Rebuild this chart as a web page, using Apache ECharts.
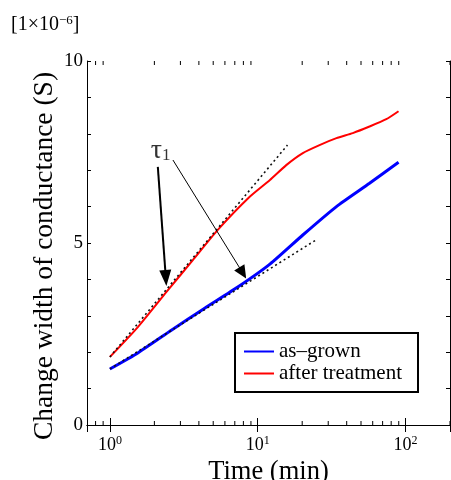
<!DOCTYPE html>
<html><head><meta charset="utf-8">
<script src="https://cdn.jsdelivr.net/npm/echarts@6/dist/echarts.min.js"></script>
<style>html,body{margin:0;padding:0;background:#fff}#c{width:451px;height:480px}</style>
</head><body><div id="c"></div>
<script>
// ---- data ----
const asGrownTime  = [1, 1.546, 2.62, 4.38, 7.33, 12.1, 20.2, 34.1, 57.1, 89.7];
const asGrownValue = [1.54, 1.98, 2.61, 3.21, 3.79, 4.42, 5.22, 6.00, 6.64, 7.22];
const treatedTime  = [1, 1.546, 2.43, 3.64, 5.37, 8.83, 12.1, 15.6, 20.2, 26.2, 34.1, 44.0, 57.1, 74.1, 89.7];
const treatedValue = [1.87, 2.69, 3.67, 4.53, 5.36, 6.27, 6.73, 7.14, 7.47, 7.69, 7.88, 8.02, 8.20, 8.40, 8.62];
const tangentRedTime   = [1, 15.9];
const tangentRedValue  = [1.87, 7.69];
const tangentBlueTime  = [1, 25.4];
const tangentBlueValue = [1.54, 5.11];
const arrowStart = [[2.11, 7.09], [2.67, 7.28]];
const arrowEnd   = [[2.39, 4.04], [7.92, 4.18]];
const tauPos = [2.2, 7.55];
const minorTicks = [0.8, 0.9, 2, 3, 4, 5, 6, 7, 8, 9, 20, 30, 40, 50, 60, 70, 80, 90, 200];
const seriesNames = ['as\u2013grown', 'after treatment'];
const yTitle = 'Change width of conductance (S)';
const xTitle = 'Time (min)';

const FONT = 'Liberation Serif';
const zip = (a, b) => a.map((v, i) => [v, b[i]]);

const chart = echarts.init(document.getElementById('c'), null, {renderer: 'canvas'});
const isPow10 = v => Math.abs(Math.log10(v) - Math.round(Math.log10(v))) < 1e-6;

const xBase = {
  type: 'log', logBase: 10, min: 0.7, max: 200,
  axisLine: {show: true, lineStyle: {color: '#000', width: 1}},
  axisTick: {show: true, inside: true, length: 7, lineStyle: {color: '#000'}},
  splitLine: {show: false}
};
const yBase = {
  type: 'value', min: 0, max: 10, interval: 1,
  axisLine: {show: true, lineStyle: {color: '#000', width: 1}},
  axisTick: {show: true, inside: true, length: 4, lineStyle: {color: '#000'}},
  splitLine: {show: false}
};

chart.setOption({
  animation: false,
  backgroundColor: '#fff',
  grid: {left: 87, right: 1, top: 61, bottom: 55, containLabel: false, outerBoundsMode: 'none'},
  graphic: [{
    type: 'text', left: 11, top: 14,
    style: {
      rich: {
        n: {fontFamily: FONT, fontSize: 20, fill: '#000'},
        s: {fontFamily: FONT, fontSize: 13, fill: '#000', verticalAlign: 'top', padding: [0, 0, 8, 0]}
      },
      text: '{n|[1\u00d710}{s|\u22126}{n|]}',
      fill: '#000'
    }
  }, {
    type: 'text', x: 45, y: 256, rotation: Math.PI / 2,
    style: {
      text: yTitle, fontFamily: FONT, fontSize: 27.5, fill: '#000',
      align: 'center', verticalAlign: 'middle'
    }
  }],
  legend: {
    data: seriesNames,
    orient: 'vertical', left: 235, top: 333,
    backgroundColor: '#fff',
    borderColor: '#000', borderWidth: 2, borderRadius: 0,
    padding: [8, 16, 8, 9], itemGap: 1,
    icon: 'rect', itemWidth: 30, itemHeight: 2,
    textStyle: {fontFamily: FONT, fontSize: 21, color: '#000', lineHeight: 18}
  },
  xAxis: [
    Object.assign({}, xBase, {
      position: 'bottom',
      name: xTitle, nameLocation: 'middle', nameGap: 14,
      nameTextStyle: {fontFamily: FONT, fontSize: 26.5, color: '#000'},
      axisLabel: {
        margin: 10, color: '#000',
        formatter: v => isPow10(v) ? '{b|10}{s|' + Math.round(Math.log10(v)) + '}' : '',
        rich: {
          b: {fontFamily: FONT, fontSize: 18, color: '#000', lineHeight: 20},
          s: {fontFamily: FONT, fontSize: 12, color: '#000', verticalAlign: 'top', lineHeight: 12}
        }
      }
    }),
    Object.assign({}, xBase, {position: 'top', axisLabel: {show: false}})
  ],
  yAxis: [
    Object.assign({}, yBase, {
      position: 'left',
      axisLabel: {
        margin: 4, color: '#000', fontFamily: FONT, fontSize: 19,
        formatter: v => (v % 5 === 0 ? String(v) : '')
      }
    }),
    Object.assign({}, yBase, {position: 'right', axisLabel: {show: false}})
  ],
  series: [
    {
      name: seriesNames[0], type: 'line', data: zip(asGrownTime, asGrownValue),
      smooth: 0.2, showSymbol: false, symbol: 'none',
      lineStyle: {color: '#0000ff', width: 3}, itemStyle: {color: '#0000ff'}, z: 3
    },
    {
      name: seriesNames[1], type: 'line', data: zip(treatedTime, treatedValue),
      smooth: 0.2, showSymbol: false, symbol: 'none',
      lineStyle: {color: '#ff0000', width: 2}, itemStyle: {color: '#ff0000'}, z: 3
    },
    {
      name: 'tanR', type: 'line', data: zip(tangentRedTime, tangentRedValue),
      showSymbol: false, symbol: 'none',
      lineStyle: {color: '#111', width: 1.6, type: [2, 3]}, z: 4
    },
    {
      name: 'tanB', type: 'line', data: zip(tangentBlueTime, tangentBlueValue),
      showSymbol: false, symbol: 'none',
      lineStyle: {color: '#111', width: 1.6, type: [2, 3]}, z: 4
    },
    {
      name: 'arrows', type: 'line', data: [], z: 5,
      markLine: {
        silent: true, animation: false, label: {show: false},
        symbol: ['none', 'triangle'],
        data: [
          [{coord: arrowStart[0], symbol: 'none', lineStyle: {color: '#000', width: 2, type: 'solid'}},
           {coord: arrowEnd[0], symbol: 'triangle', symbolSize: [12, 16]}],
          [{coord: arrowStart[1], symbol: 'none', lineStyle: {color: '#000', width: 1, type: 'solid'}},
           {coord: arrowEnd[1], symbol: 'triangle', symbolSize: [12, 13]}]
        ],
        lineStyle: {color: '#000', type: 'solid'},
        itemStyle: {color: '#000'}
      }
    },
    {
      name: 'tau', type: 'scatter', data: [tauPos], symbolSize: 0, z: 6,
      label: {
        show: true, position: 'inside', formatter: '{t|\u03c4}{s|1}',
        rich: {
          t: {fontFamily: FONT, fontSize: 28, color: '#000'},
          s: {fontFamily: FONT, fontSize: 17, color: '#000', verticalAlign: 'bottom', padding: [10, 0, 0, 0]}
        }
      }
    },
    {
      name: 'minor', type: 'custom', data: minorTicks.map(v => [v]), z: 2, silent: true,
      encode: {x: 0},
      renderItem: (params, api) => {
        const x = api.value(0);
        const b = api.coord([x, 0]);
        const t = api.coord([x, 10]);
        const st = {stroke: '#000', lineWidth: 1};
        return {type: 'group', children: [
          {type: 'line', shape: {x1: b[0], y1: b[1], x2: b[0], y2: b[1] - 4}, style: st},
          {type: 'line', shape: {x1: t[0], y1: t[1], x2: t[0], y2: t[1] + 4}, style: st}
        ]};
      }
    }
  ]
});
</script></body></html>
